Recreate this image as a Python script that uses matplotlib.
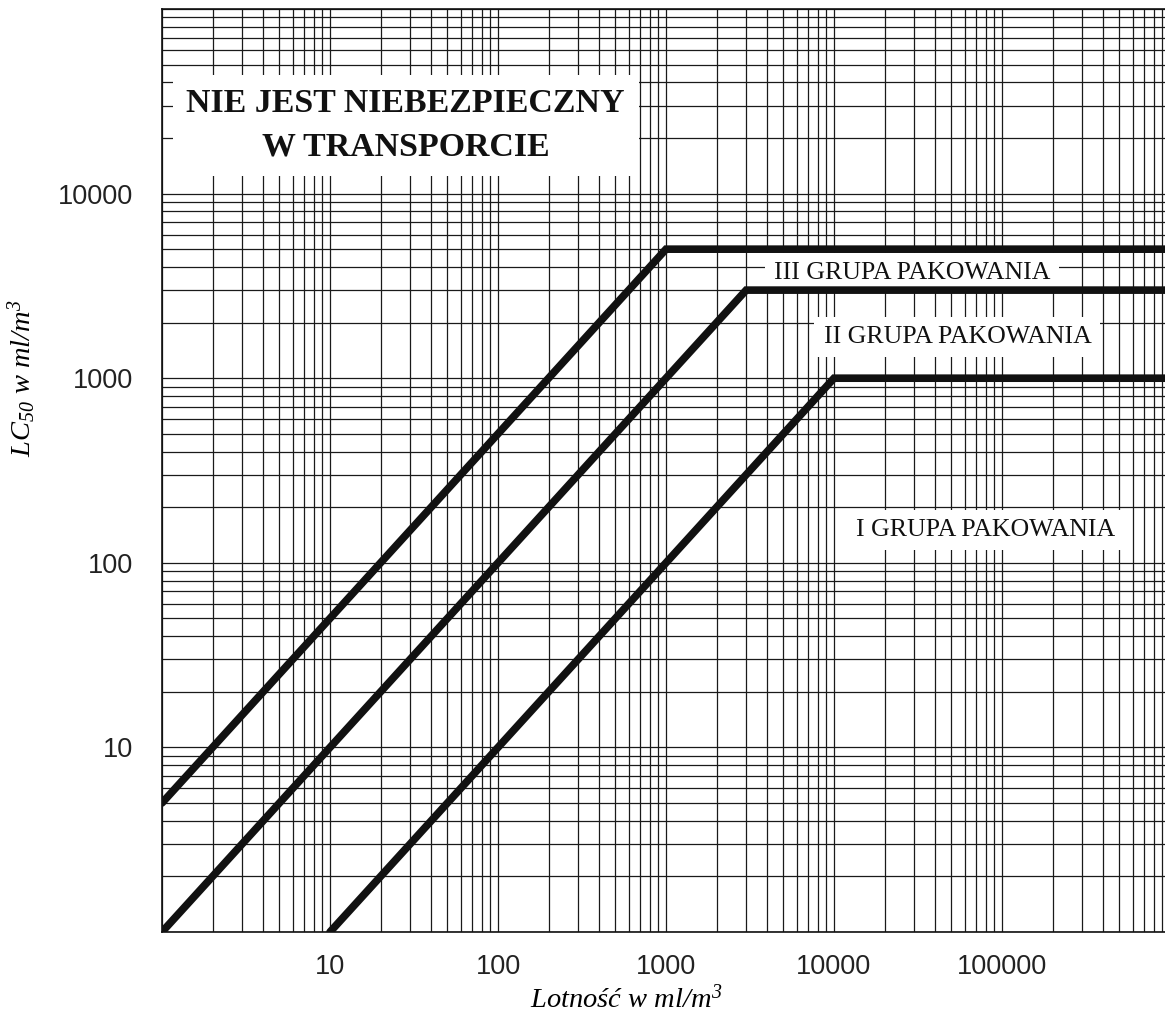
import numpy as np
import matplotlib
matplotlib.use('Agg')
import matplotlib.pyplot as plt
from matplotlib.ticker import LogLocator, NullFormatter

# boundaries of the packing groups (volatility -> LC50)
vol_III = [1, 1000, 1e6]
lc50_III = [5, 5000, 5000]
vol_II = [1, 3000, 1e6]
lc50_II = [1, 3000, 3000]
vol_I = [10, 10000, 1e6]
lc50_I = [1, 1000, 1000]

x_ticks = [10, 100, 1000, 10000, 100000]
x_ticklabels = ['10', '100', '1000', '10000', '100000']
y_ticks = [10, 100, 1000, 10000]
y_ticklabels = ['10', '100', '1000', '10000']

plt.rcParams['mathtext.fontset'] = 'custom'
plt.rcParams['mathtext.rm'] = 'Liberation Serif:italic'
plt.rcParams['mathtext.it'] = 'Liberation Serif:italic'

fig = plt.figure(figsize=(11.65, 10.18), dpi=100)
ax = fig.add_axes([162 / 1165, 86 / 1018, 1003 / 1165, 923 / 1018])

ax.set_xscale('log')
ax.set_yscale('log')
ax.set_xlim(1, 10 ** (1003 / 168))
ax.set_ylim(1, 1e5)

# log paper grid
ax.xaxis.set_minor_locator(LogLocator(base=10, subs=np.arange(1, 10), numticks=30))
ax.yaxis.set_minor_locator(LogLocator(base=10, subs=np.arange(1, 10), numticks=30))
ax.xaxis.set_minor_formatter(NullFormatter())
ax.yaxis.set_minor_formatter(NullFormatter())
ax.grid(True, which='both', color='#1a1a1a', lw=0.9, zorder=0)
ax.set_axisbelow(True)

lw = 5.5
for v, c in [(vol_III, lc50_III), (vol_II, lc50_II), (vol_I, lc50_I)]:
    ax.plot(v, c, color='#111111', lw=lw, solid_capstyle='round',
            solid_joinstyle='miter', zorder=3)

ax.set_xticks(x_ticks)
ax.set_xticklabels(x_ticklabels)
ax.set_yticks(y_ticks)
ax.set_yticklabels(y_ticklabels)
ax.tick_params(which='both', length=0)
ax.tick_params(axis='x', pad=16)
ax.tick_params(axis='y', pad=21)
for lab in ax.get_xticklabels() + ax.get_yticklabels():
    lab.set_fontfamily('Liberation Sans')
    lab.set_fontsize(19.5)
    lab.set_color('#222222')

ax.spines['right'].set_visible(False)
for s in ['left', 'bottom', 'top']:
    ax.spines[s].set_color('#111111')
    ax.spines[s].set_linewidth(1.2)

ax.set_xlabel('Lotność w ml/m$^3$', fontfamily='Liberation Serif',
              fontstyle='italic', fontsize=20.5)
ax.xaxis.set_label_coords(0.4626, -0.057)
ax.set_ylabel('LC$_{50}$ w ml/m$^3$', fontfamily='Liberation Serif',
              fontstyle='italic', fontsize=20.5)
ax.yaxis.set_label_coords(-0.1236, 0.60)

box = dict(boxstyle='square,pad=0.4', facecolor='white', edgecolor='none')
ax.text(0.243, 0.874, 'NIE JEST NIEBEZPIECZNY\nW TRANSPORCIE',
        transform=ax.transAxes, ha='center', va='center',
        fontfamily='Liberation Serif', fontweight='bold', fontsize=24.4,
        linespacing=1.5, color='#111111', bbox=box, zorder=4)

gbox = dict(boxstyle='square,pad=0.35', facecolor='white', edgecolor='none')
ax.text(0.748, 0.714, 'III GRUPA PAKOWANIA', transform=ax.transAxes,
        ha='center', va='center', fontfamily='Liberation Serif',
        fontsize=18.6, color='#111111', bbox=gbox, zorder=2)
ax.text(0.793, 0.645, 'II GRUPA PAKOWANIA', transform=ax.transAxes,
        ha='center', va='center', fontfamily='Liberation Serif',
        fontsize=18.6, color='#111111', bbox=gbox, zorder=2)
ax.text(0.821, 0.4355, 'I GRUPA PAKOWANIA', transform=ax.transAxes,
        ha='center', va='center', fontfamily='Liberation Serif',
        fontsize=18.6, color='#111111', bbox=gbox, zorder=2)

fig.savefig('out.png', dpi=100)
